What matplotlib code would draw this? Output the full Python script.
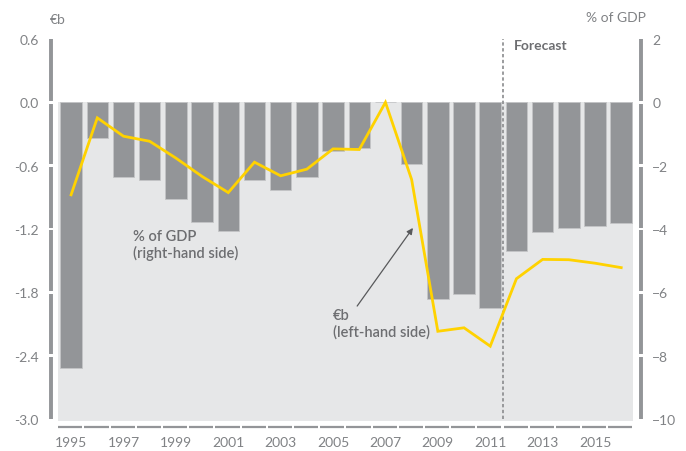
import matplotlib
matplotlib.use("Agg")
import matplotlib.pyplot as plt
import matplotlib.transforms as mtransforms
from matplotlib.patches import Rectangle

plt.rcParams["font.family"] = ["Lato", "DejaVu Sans"]

years = list(range(1995, 2017))
# 财政余额，十亿欧元（左轴）
balance_eur = [-2.52, -0.34, -0.71, -0.74, -0.92, -1.13, -1.22, -0.74, -0.83, -0.71,
               -0.46, -0.43, 0.0, -0.58, -1.86, -1.82, -1.95, -1.41, -1.23, -1.19,
               -1.17, -1.14]
# 占 GDP 百分比（右轴）
balance_gdp = [-2.92, -0.49, -1.07, -1.23, -1.76, -2.34, -2.85, -1.89, -2.32, -2.11,
               -1.47, -1.49, 0.0, -2.44, -7.23, -7.12, -7.70, -5.57, -4.96, -4.97,
               -5.08, -5.22]
left_ticks = [0.6, 0.0, -0.6, -1.2, -1.8, -2.4, -3.0]
right_ticks = [2, 0, -2, -4, -6, -8, -10]
year_ticks = list(range(1995, 2017, 2))
forecast_start = 2011.5

GREY_BAR = "#939598"
GREY_TXT = "#808285"
GREY_DARK = "#6d6e71"
BG = "#e6e7e8"
YELLOW = "#ffd200"

fig = plt.figure(figsize=(6.86, 4.52), dpi=100)
W, H = 686, 452
ax = fig.add_axes([58 / W, 1 - 420 / H, 575 / W, 380 / H])
ax2 = ax.twinx()

xlo, xhi = 1994.5, 2016.45
ax.set_xlim(xlo, xhi)
ax.set_ylim(-3.0, 0.6)
ax2.set_ylim(-10, 2)

# 负值区域灰底
ax.add_patch(Rectangle((xlo, -3.02), xhi - xlo, 3.02, facecolor=BG, edgecolor="none",
                       zorder=0, clip_on=False))
ax.bar(years, balance_eur, width=0.82, color=GREY_BAR, edgecolor="#c4c5c7",
       linewidth=0.6, zorder=2)

ax.axvline(forecast_start, color="#8a8b8d", lw=1.2, ls=(0, (2, 1.5)), zorder=3)
ax.text(forecast_start + 0.4, 0.545, "Forecast", color=GREY_DARK, fontsize=10,
        fontweight="bold", va="center", ha="left")

ax2.plot(years, balance_gdp, color=YELLOW, lw=2.0, zorder=5, solid_joinstyle="miter")
ax.set_zorder(ax2.get_zorder() - 1)
ax2.patch.set_visible(False)

for a in (ax, ax2):
    for s in a.spines.values():
        s.set_visible(False)
    a.tick_params(length=0)

ax.set_yticks(left_ticks)
ax.set_yticklabels([f"{v:.1f}" for v in left_ticks])
ax.tick_params(axis="y", pad=14, labelsize=10, labelcolor=GREY_TXT)
ax2.set_yticks(right_ticks)
ax2.tick_params(axis="y", pad=14, labelsize=10, labelcolor=GREY_TXT)
ax.set_xticks(year_ticks)
ax.tick_params(axis="x", pad=12, labelsize=10, labelcolor=GREY_TXT)


def draw_spine(xfrac, ticks):
    trans = mtransforms.blended_transform_factory(ax.transAxes, ax.transData)
    ts = sorted(ticks)
    g = 0.012
    for i, (a, b) in enumerate(zip(ts[:-1], ts[1:])):
        lo = a + (g if i > 0 else 0)
        hi = b - (g if i < len(ts) - 2 else 0)
        ax.plot([xfrac, xfrac], [lo, hi], color=GREY_BAR, lw=2.8, transform=trans,
                clip_on=False, solid_capstyle="butt")


draw_spine(-7 / 575, left_ticks)
draw_spine(1 + 8 / 575, left_ticks)

# 底部分段轴线
tb = mtransforms.blended_transform_factory(ax.transData, ax.transAxes)
for y in years:
    ax.plot([y - 0.49, y + 0.43], [-8 / 380, -8 / 380], color=GREY_BAR, lw=1.6,
            transform=tb, clip_on=False, solid_capstyle="butt")

fig.text(50 / W, 1 - 20 / H, "€b", color=GREY_TXT, fontsize=10, va="center", ha="left")
fig.text(646 / W, 1 - 18 / H, "% of GDP", color=GREY_TXT, fontsize=10, va="center",
         ha="right")

ax.text(1997.35, -1.20, "% of GDP\n(right-hand side)", color=GREY_DARK, fontsize=10.5,
        fontweight="semibold", va="top", ha="left", linespacing=1.2)
ax.text(2005.0, -1.95, "€b\n(left-hand side)", color=GREY_DARK, fontsize=10.5,
        fontweight="semibold", va="top", ha="left", linespacing=1.2)
ax.annotate("", xy=(2008.05, -1.19), xytext=(2005.92, -1.93),
            arrowprops=dict(arrowstyle="-|>", color="#58595b", lw=0.9,
                            mutation_scale=9, shrinkA=0, shrinkB=0))

fig.savefig("out.png", dpi=100, facecolor="white")
